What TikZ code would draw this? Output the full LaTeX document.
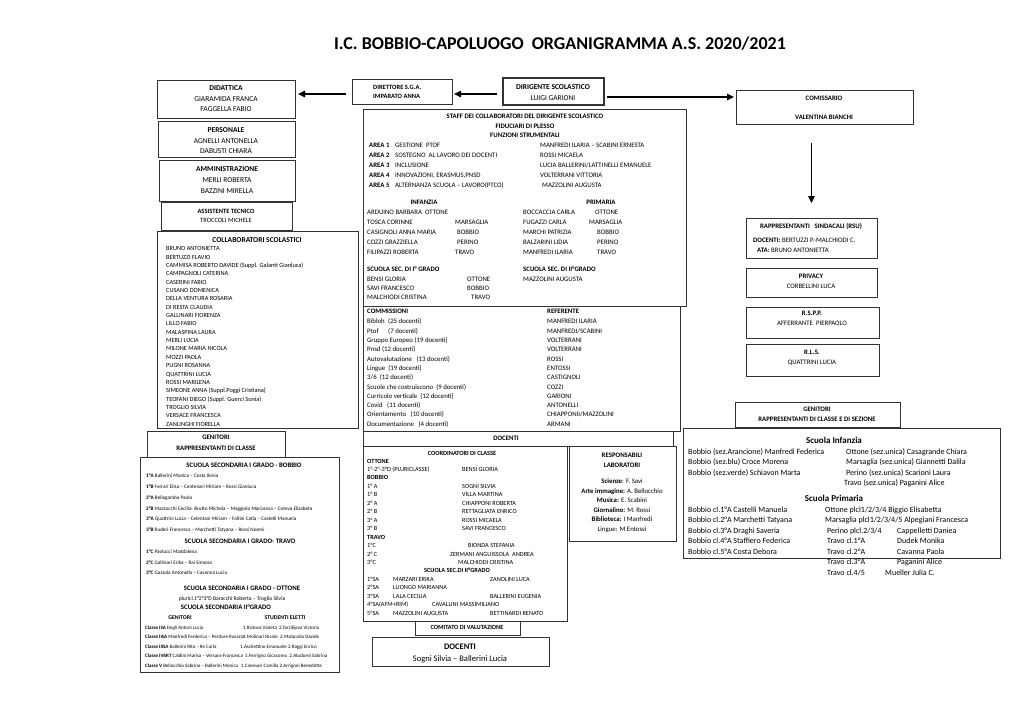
\documentclass[tikz,border=0pt]{standalone}
\usepackage{fontspec}
\setmainfont{Carlito}
\usetikzlibrary{arrows.meta}
\newcounter{tn}
\newcommand\fsz[1]{\fontsize{#1}{#1}\selectfont}
\newcommand\bx[6][]{\node[box,anchor=north west,minimum width={#5-#3},minimum height={#6-#4},#1] (#2) at (#3,#4) {};}
\newcommand\tx[4][]{\stepcounter{tn}\node[tl,#1] (t\thetn) at (#2,#3) {\vphantom{(Ag)}#4};}
\newcommand\tcc[4][]{\stepcounter{tn}\node[tc,#1] (t\thetn) at (#2,#3) {\vphantom{(Ag)}#4};}
\begin{document}
\begin{tikzpicture}[x=1pt,y=-1pt,
 box/.style={draw=black!80,line width=0.75pt,inner sep=0pt,outer sep=0pt},
 tl/.style={inner sep=0pt,anchor=west},
 tc/.style={inner sep=0pt,anchor=center},
 arr/.style={line width=1.1pt,-{Triangle[length=7pt,width=6.5pt]}},
]
\useasboundingbox[fill=white] (0,0) rectangle (1024,724);

% title
\tcc[font=\fsz{18}\bfseries]{560}{44}{I.C. BOBBIO-CAPOLUOGO\ \ ORGANIGRAMMA A.S. 2020/2021}

% boxes
\bx{didattica}{157}{80}{295}{118}
\bx{personale}{158}{121}{295}{157}
\bx{amministrazione}{159}{160}{295}{201}
\bx{assistente}{161}{202}{292}{230}
\bx{collab}{157}{231}{358}{428}
\bx{genL}{147}{431}{285}{457}
\bx{scuolaL}{140}{457}{339}{672}
\bx{direttore}{352}{79}{452}{104}
\bx[line width=1.1pt]{dirigente}{503}{78}{604}{105}
\bx{staff}{363}{109}{686}{306}
\bx{commissioni}{363}{306}{680}{431}
\bx{docH}{363}{431}{673}{446}
\bx{coord}{363}{446}{567}{621}
\bx{lab}{569}{446}{676}{541}
\bx{comitato}{415}{621}{520}{635}
\bx{docB}{372}{637}{549}{666}
\bx{comissario}{736}{90}{913}{124}
\bx{rsu}{746}{218}{877}{258}
\bx{privacy}{746}{268}{877}{297}
\bx{rspp}{746}{307}{879}{338}
\bx{rls}{746}{344}{879}{376}
\bx{genR}{735}{402}{900}{427}
\bx{scuolaR}{683}{428}{1000}{558}

% arrows
\draw[arr,shorten <=6pt,shorten >=2pt] ([yshift=-2.5pt]dirigente.west) -- ([yshift=-2.5pt]dirigente.west -| direttore.east);
\draw[arr,shorten <=6pt,shorten >=3pt] ([yshift=-2.5pt]direttore.west) -- ([yshift=-2.5pt]direttore.west -| didattica.east);
\draw[arr,shorten <=3pt,shorten >=2pt] ([yshift=-5.5pt]dirigente.east) -- ([yshift=-5.5pt]dirigente.east -| comissario.west);
\draw[arr,shorten <=19pt,shorten >=15pt] (rsu.north |- comissario.south) -- (rsu.north);

% left top
\begin{scope}[every node/.append style={font=\fsz{7.5}}]
\tcc{226}{88}{\bfseries DIDATTICA}
\tcc{226}{99}{GIARAMIDA FRANCA}
\tcc{226}{109}{FAGGELLA FABIO}
\tcc{226}{130}{\bfseries PERSONALE}
\tcc{226}{141}{AGNELLI ANTONELLA}
\tcc{226}{151}{DABUSTI CHIARA}
\tcc{227}{169}{\bfseries AMMINISTRAZIONE}
\tcc{227}{180}{MERLI ROBERTA}
\tcc{227}{191}{BAZZINI MIRELLA}
\end{scope}
\tcc[font=\fsz{6.5}]{226}{212}{\bfseries ASSISTENTE TECNICO}
\tcc[font=\fsz{6.5}]{226}{221}{TROCCOLI MICHELE}

% collaboratori
\tcc[font=\fsz{7.5}]{257}{240}{\bfseries COLLABORATORI SCOLASTICI}
\begin{scope}
\clip (157,231) rectangle (358,427.5);
\foreach \n [count=\i] in {BRUNO ANTONIETTA, BERTUZZI FLAVIO, {CAMMISA ROBERTO DAVIDE (Suppl. Galanti Gianluca)}, CAMPAGNOLI CATERINA, CASERINI FABIO, CUSANO DOMENICA, DELLA VENTURA ROSARIA, DI RESTA CLAUDIA, GALLINARI FIORENZA, LILLO FABIO, MALASPINA LAURA, MERLI LUCIA, MILONE MARIA NICOLA, MOZZI PAOLA, PUGNI ROSANNA, QUATTRINI LUCIA, ROSSI MARILENA, {SIMEONE ANNA (Suppl.Poggi Cristiana)}, {TEOFANI DIEGO (Suppl. Guerci Sonia)}, TROGLIO SILVIA, VERSACE FRANCESCA, ZANLINGHI FIORELLA}
  \node[tl,font=\fsz{6.3}] (c\i) at (166,{249+(\i-1)*8.35}) {\vphantom{(Ag)}\n};
\end{scope}

% genitori left
\tcc[font=\fsz{6.8}]{216}{438}{\bfseries GENITORI}
\tcc[font=\fsz{6.8}]{216}{449}{\bfseries RAPPRESENTANTI DI CLASSE}

% scuola left
\begin{scope}[every node/.append style={font=\fsz{5.2}}]
\tcc[font=\fsz{6.8}]{244}{466}{\bfseries SCUOLA SECONDARIA I GRADO - BOBBIO}
\tx{146}{476}{\textbf{1°A} Ballerini Monica – Costa Ilenia}
\tx{146}{487}{\textbf{1°B} Ferrari Elisa – Centenari Miriam – Rossi Gianluca}
\tx{146}{498}{\textbf{2°A} Bellagamba Paolo}
\tx{146}{509}{\textbf{2°B} Mazzocchi Cecilia- Brutto Michela – Maggiolo Mariarosa – Coteva Elizabeta}
\tx{146}{519}{\textbf{3°A} Quattrini Lucia – Celentani Miriam – Follini Catia – Castelli Manuela}
\tx{146}{530}{\textbf{3°B} Ruderi Francesca – Marchetti Tatyana – Rossi Noemi}
\tcc[font=\fsz{6.8}]{240}{542}{\bfseries SCUOLA SECONDARIA I GRADO- TRAVO}
\tx{146}{552}{\textbf{1°C} Paolucci Maddalena}
\tx{146}{563}{\textbf{2°C} Gallinari Erika – Rai Simona}
\tx{146}{573}{\textbf{3°C} Gazzola Antonella – Cavanna Lucia}
\tcc[font=\fsz{6.8}]{242}{589}{\bfseries SCUOLA SECONDARIA I GRADO - OTTONE}
\tcc[font=\fsz{5.6}]{232}{598.5}{pluricl.1°2°3°D Baracchi Roberta – Troglio Silvia}
\tcc[font=\fsz{6.8}]{226}{608}{\bfseries SCUOLA SECONDARIA II°GRADO}
\tcc[font=\fsz{5.8}]{180}{618}{\bfseries GENITORI}
\tcc[font=\fsz{5.8}]{285}{618}{\bfseries STUDENTI ELETTI}
\end{scope}
\begin{scope}[every node/.append style={font=\fsz{5}}]
\tx{145}{628}{\textbf{Classe ISA} Degli Antoni Lucia}
\tx{145}{637.5}{\textbf{Classe IISA} Manfredi Ferderica – Peritore Rosaria}
\tx{145}{647}{\textbf{Classe IIISA} Ballerini Rita – Re Carla}
\tx{145}{656.5}{\textbf{Classe IVART} Caldini Marisa – Versace Francesca}
\tx{145}{666}{\textbf{Classe V} Bellocchio Sabrina – Ballerini Monica}
\tx{243}{628}{1.Ristova Violeta\ \ 2.Terzilijeva Victoria}
\tx{243}{637.5}{1.Molinari Nicole\ \ 2.Malacalza Davide}
\tx{240}{647}{1.Aschettino Emanuele 2.Raggi Enrico}
\tx{245}{656.5}{1.Ferrigno Gicacomo\ \ 2.Atudorei Sabrina}
\tx{241}{666}{1.Canevari Camilla 2.Arrigoni Benedetta}
\end{scope}

% direttore / dirigente
\tx[font=\fsz{6.5}]{373}{88}{\bfseries DIRETTORE S.G.A.}
\tx[font=\fsz{6.5}]{373}{97}{\bfseries IMPARATO ANNA}
\tcc[font=\fsz{7.5}]{553}{87}{\bfseries DIRIGENTE SCOLASTICO}
\tcc[font=\fsz{7.5}]{553}{98}{LUIGI GARIONI}

% staff
\begin{scope}[every node/.append style={font=\fsz{6.8}}]
\tcc{525}{117}{\bfseries STAFF DEI COLLABORATORI DEL DIRIGENTE SCOLASTICO}
\tcc{525}{127}{\bfseries FIDUCIARI DI PLESSO}
\tcc{525}{136}{\bfseries FUNZIONI STRUMENTALI}
\tx{369}{146}{\bfseries AREA 1}\tx{395}{146}{GESTIONE\ \ PTOF}\tx{540}{146}{MANFREDI ILARIA – SCABINI ERNESTA}
\tx{369}{156}{\bfseries AREA 2}\tx{395}{156}{SOSTEGNO\ \ AL LAVORO DEI DOCENTI}\tx{540}{156}{ROSSI MICAELA}
\tx{369}{166}{\bfseries AREA 3}\tx{395}{166}{INCLUSIONE}\tx{540}{166}{LUCIA BALLERINI/LATTINELLI EMANUELE}
\tx{369}{176}{\bfseries AREA 4}\tx{395}{176}{INNOVAZIONI, ERASMUS,PNSD}\tx{540}{176}{VOLTERRANI VITTORIA}
\tx{369}{186}{\bfseries AREA 5}\tx{395}{186}{ALTERNANZA SCUOLA – LAVORO(PTCO)}\tx{542}{186}{MAZZOLINI AUGUSTA}
\tcc{424}{203}{\bfseries INFANZIA}
\tcc{601}{203}{\bfseries PRIMARIA}
\tx{367}{213}{ARDUINO BARBARA\ \ OTTONE}
\tx{367}{223}{TOSCA CORINNE}\tx{455}{223}{MARSAGLIA}
\tx{367}{233}{CASIGNOLI ANNA MARIA}\tx{457}{233}{BOBBIO}
\tx{367}{243}{COZZI GRAZZIELLA}\tx{457}{243}{PERINO}
\tx{367}{253}{FILIPAZZI ROBERTA}\tx{455}{253}{TRAVO}
\tx{523}{213}{BOCCACCIA CARLA}\tx{595}{213}{OTTONE}
\tx{523}{223}{FUGAZZI CARLA}\tx{589}{223}{MARSAGLIA}
\tx{523}{233}{MARCHI PATRIZIA}\tx{597}{233}{BOBBIO}
\tx{523}{243}{BALZARINI LIDIA}\tx{597}{243}{PERINO}
\tx{523}{253}{MANFREDI ILARIA}\tx{597}{253}{TRAVO}
\tx{367}{270}{\bfseries SCUOLA SEC. DI I° GRADO}
\tx{523}{270}{\bfseries SCUOLA SEC. DI II°GRADO}
\tx{367}{280}{BENSI GLORIA}\tx{467}{280}{OTTONE}
\tx{367}{289}{SAVI FRANCESCO}\tx{467}{289}{BOBBIO}
\tx{367}{298}{MALCHIODI CRISTINA}\tx{471}{298}{TRAVO}
\tx{523}{280}{MAZZOLINI AUGUSTA}
\end{scope}

% commissioni
\begin{scope}[every node/.append style={font=\fsz{6.8}}]
\tx{367}{312}{\bfseries COMMISSIONI}\tx{547}{312}{\bfseries REFERENTE}
\tx{367}{322}{Bibloh}\tx{388}{322}{(25 docenti)}\tx{547}{322}{MANFREDI ILARIA}
\tx{367}{331.3}{Ptof}\tx{388}{331.3}{(7 docenti)}\tx{547}{331.3}{MANFREDI/SCABINI}
\tx{367}{340.6}{Gruppo Europeo\ (19 docenti)}\tx{547}{340.6}{VOLTERRANI}
\tx{367}{349.9}{Pnsd\ (12 docenti)}\tx{547}{349.9}{VOLTERRANI}
\tx{367}{359.2}{Autovalutazione\ \ \ (13 docenti)}\tx{547}{359.2}{ROSSI}
\tx{367}{368.5}{Lingue\ \ (19 docenti)}\tx{547}{368.5}{ENTOSSI}
\tx{367}{377.8}{3/6\ \ (12 docenti)}\tx{547}{377.8}{CASTIGNOLI}
\tx{367}{387.1}{Scuole che costruiscono\ \ (9 docenti)}\tx{547}{387.1}{COZZI}
\tx{367}{396.4}{Curricolo verticale\ \ (12\ docenti)}\tx{547}{396.4}{GARIONI}
\tx{367}{405.7}{Covid\ \ \ (11 docenti)}\tx{547}{405.7}{ANTONELLI}
\tx{367}{415}{Orientamento\ \ \ (10 docenti)}\tx{547}{415}{CHIAPPONII/MAZZOLINI}
\tx{367}{424.3}{Documentazione\ \ \ (4 docenti)}\tx{547}{424.3}{ARMANI}
\end{scope}
\tcc[font=\fsz{6.8}]{506}{439}{\bfseries DOCENTI}

% coordinatori
\begin{scope}[every node/.append style={font=\fsz{6.3}}]
\tcc{462}{454}{\bfseries COORDINATORI DI CLASSE}
\tx{367}{462}{\bfseries OTTONE}
\tx{367}{470}{1°-2°-3°D (PLURICLASSE)}\tx{462}{470}{BENSI GLORIA}
\tx{367}{478}{\bfseries BOBBIO}
\tx{367}{486.5}{1° A}\tx{462}{486.5}{SOGNI SILVIA}
\tx{367}{495}{1° B}\tx{462}{495}{VILLA MARTINA}
\tx{367}{503.5}{2° A}\tx{462}{503.5}{CHIAPPONI ROBERTA}
\tx{367}{512}{2° B}\tx{462}{512}{RETTAGLIATA ENRICO}
\tx{367}{520.5}{3° A}\tx{462}{520.5}{ROSSI MICAELA}
\tx{367}{529}{3° B}\tx{462}{529}{SAVI FRANCESCO}
\tx{367}{537.5}{\bfseries TRAVO}
\tx{367}{546}{1°C}\tx{468}{546}{BIONDA STEFANIA}
\tx{367}{554.5}{2° C}\tx{450}{554.5}{ZERMANI ANGUISSOLA\ \ ANDREA}
\tx{367}{563}{3°C}\tx{458}{563}{MALCHIODI CRISTINA}
\tcc{457}{571}{\bfseries SCUOLA SEC.DI II°GRADO}
\tx{367}{579.5}{1°SA}\tx{393}{579.5}{MARZARI ERIKA}\tx{490}{579.5}{ZANOLINI LUCA}
\tx{367}{588}{2°SA}\tx{393}{588}{LUONGO MARIANNA}
\tx{367}{596.5}{3°SA}\tx{393}{596.5}{LALA CECILIA}\tx{490}{596.5}{BALLERINI EUGENIA}
\tx{367}{605}{4°SA(AFM+RIM)}\tx{432}{605}{CAVALLINI MASSIMILIANO}
\tx{367}{613.5}{5°SA}\tx{393}{613.5}{MAZZOLINI AUGUSTA}\tx{490}{613.5}{BETTINARDI RENATO}
\end{scope}

% laboratori
\begin{scope}[every node/.append style={font=\fsz{6.8}}]
\tcc{622}{456}{\bfseries RESPONSABILI}
\tcc{622}{466}{\bfseries LABORATORI}
\tcc{622}{482}{\textbf{Scienze}: F. Savi}
\tcc{622}{491.5}{\textbf{Arte immagine:} A. Bellocchio}
\tcc{622}{501}{\textbf{Musica:} E. Scabini}
\tcc{622}{510.5}{\textbf{Giornalino:} M. Rossi}
\tcc{622}{520}{\textbf{Biblioteca:} I Manfredi}
\tcc{622}{529.5}{Lingue: M Entossi}
\end{scope}

% comitato / docenti
\tcc[font=\fsz{6.3}]{467}{628}{\bfseries COMITATO DI VALUTAZIONE}
\tcc[font=\fsz{8.5}]{460}{647}{\bfseries DOCENTI}
\tcc[font=\fsz{8.5}]{460}{659}{Sogni Silvia – Ballerini Lucia}

% right column
\begin{scope}[every node/.append style={font=\fsz{6.8}}]
\tcc{824}{99}{\bfseries COMISSARIO}
\tcc{824}{118}{\bfseries VALENTINA BIANCHI}
\tcc{811}{227}{\bfseries RAPPRESENTANTI\ \ \ SINDACALI (RSU)}
\tx{753}{241}{\textbf{DOCENTI:} BERTUZZI P.-MALCHIODI C.}
\tx{757}{251}{\textbf{ATA:} BRUNO ANTONIETTA}
\tcc{811}{277}{\bfseries PRIVACY}
\tcc{811}{287}{CORBELLINI LUCA}
\tcc{812}{314}{\bfseries R.S.P.P.}
\tcc{812}{324}{AFFERRANTE\ \ PIERPAOLO}
\tcc{812}{353}{\bfseries R.L.S.}
\tcc{812}{363}{QUATTRINI LUCIA}
\tcc{817}{410}{\bfseries GENITORI}
\tcc{817}{420}{\bfseries RAPPRESENTANTI DI CLASSE E DI SEZIONE}
\end{scope}

\begin{scope}[every node/.append style={font=\fsz{8}}]
\tcc[font=\fsz{9}]{834}{441}{\bfseries Scuola Infanzia}
\tx{688}{452}{Bobbio (sez.Arancione) Manfredi Federica}\tx{846}{452}{Ottone (sez.unica) Casagrande Chiara}
\tx{688}{462.5}{Bobbio (sez.blu) Croce Morena}\tx{846}{462.5}{Marsaglia (sez.unica) Giannetti Dalila}
\tx{688}{473}{Bobbio (sez.verde) Schiavon Marta}\tx{846}{473}{Perino (sez.unica) Scarioni Laura}
\tx{844}{483.5}{Travo (sez.unica) Paganini Alice}
\tcc[font=\fsz{9}]{834}{499}{\bfseries Scuola Primaria}
\tx{688}{510}{Bobbio cl.1°A Castelli Manuela}\tx{825}{510}{Ottone plcl1/2/3/4 Biggio Elisabetta}
\tx{688}{520.5}{Bobbio cl.2°A Marchetti Tatyana}\tx{825}{520.5}{Marsaglia plcl1/2/3/4/5 Alpegiani Francesca}
\tx{688}{531}{Bobbio cl.3°A Draghi Saveria}\tx{827}{531}{Perino plcl.2/3/4}\tx{897}{531}{Cappelletti Daniea}
\tx{688}{541.5}{Bobbio cl.4°A Staffiero Federica}\tx{827}{541.5}{Travo cl.1°A}\tx{897}{541.5}{Dudek Monika}
\tx{688}{552}{Bobbio cl.5°A Costa Debora}\tx{827}{552}{Travo cl.2°A}\tx{897}{552}{Cavanna Paola}
\tx{827}{562.5}{Travo cl.3°A}\tx{897}{562.5}{Paganini Alice}
\tx{827}{573}{Travo cl.4/5}\tx{885}{573}{Mueller Julia C.}
\end{scope}

\end{tikzpicture}
\end{document}
